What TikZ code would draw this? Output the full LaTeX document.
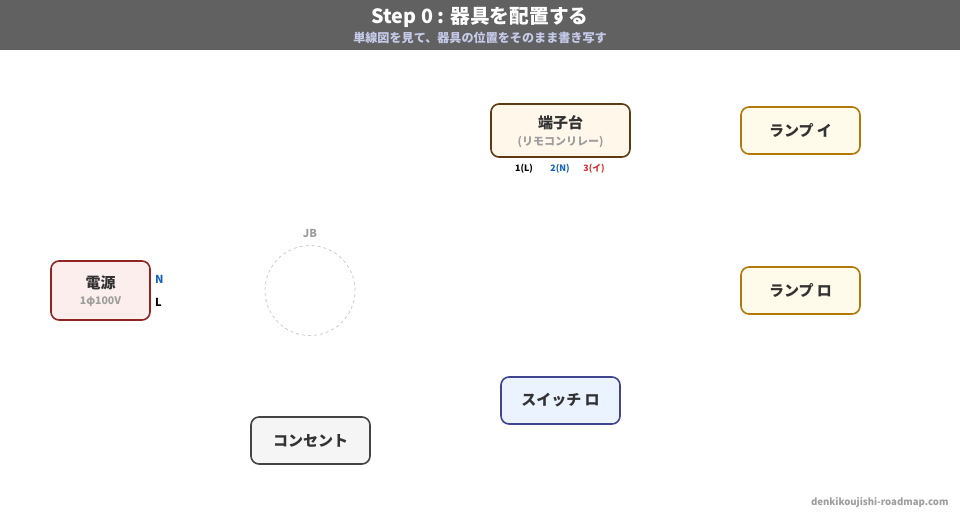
\documentclass[tikz,border=0pt]{standalone}
\usepackage{fontspec}
\setmainfont{Noto Sans CJK JP}
\definecolor{hdr}{HTML}{616161}
\definecolor{subc}{HTML}{C5CAE9}
\definecolor{txt}{HTML}{333333}
\definecolor{gry}{HTML}{9E9E9E}
\definecolor{nblue}{HTML}{1565C0}
\definecolor{tred}{HTML}{D32F2F}
\definecolor{srcf}{HTML}{FDEEEE}\definecolor{srcd}{HTML}{8E2424}
\definecolor{tbf}{HTML}{FFF7EA}\definecolor{tbd}{HTML}{5D3A12}
\definecolor{lmf}{HTML}{FFFBEA}\definecolor{lmd}{HTML}{B07808}
\definecolor{swf}{HTML}{EAF3FF}\definecolor{swd}{HTML}{3F458F}
\definecolor{ocf}{HTML}{F5F5F5}\definecolor{ocd}{HTML}{444444}
\definecolor{jbc}{HTML}{CCCCCC}
\tikzset{
  dev/.style={draw, line width=1.6pt, rounded corners=8pt, align=center, font=\bfseries\fontsize{15}{18}\selectfont, text=txt, inner sep=0pt},
  lbl/.style={font=\bfseries\fontsize{11}{13}\selectfont, inner sep=0pt},
}
\begin{document}
\begin{tikzpicture}[x=1pt,y=-1pt]
\useasboundingbox (0,0) rectangle (960,520);
\fill[hdr] (0,0) rectangle (960,50);
\node[text=white, font=\bfseries\fontsize{19.7}{22}\selectfont] (title) at (480,17) {Step 0 : 器具を配置する};
\node[text=subc, font=\bfseries\fontsize{12.1}{14}\selectfont] (sub) at (480,38) {単線図を見て、器具の位置をそのまま書き写す};

% power source
\node[dev, fill=srcf, draw=srcd, minimum width=99pt, minimum height=59pt] (src) at (100.5,290.5) {};
\node[font=\bfseries\fontsize{15}{18}\selectfont, text=txt] (srct) at (100.5,283) {電源};
\node[font=\bfseries\fontsize{10.5}{12}\selectfont, text=gry] (srcv) at (100.5,302) {1φ100V};
\node[lbl, text=nblue, anchor=west] (N) at (155,279) {N};
\node[lbl, text=black, anchor=west] (L) at (155,302) {L};

% terminal block
\node[dev, fill=tbf, draw=tbd, minimum width=139pt, minimum height=53pt] (tb) at (560.5,130.5) {};
\node[font=\bfseries\fontsize{15}{18}\selectfont, text=txt] (tbt) at (560.5,123) {端子台};
\node[font=\bfseries\fontsize{11}{13}\selectfont, text=gry] (tbs) at (560.5,142) {(リモコンリレー)};
\node[lbl, font=\bfseries\fontsize{8.8}{10}\selectfont, text=black] (t1) at (524,168.5) {1(L)};
\node[lbl, font=\bfseries\fontsize{8.8}{10}\selectfont, text=nblue] (t2) at (560,168.5) {2(N)};
\node[lbl, font=\bfseries\fontsize{8.8}{10}\selectfont, text=tred] (t3) at (594,168.5) {3(イ)};

% lamps
\node[dev, fill=lmf, draw=lmd, minimum width=119pt, minimum height=47pt] (li) at (800.5,130.5) {ランプ イ};
\node[dev, fill=lmf, draw=lmd, minimum width=119pt, minimum height=47pt] (lr) at (800.5,290.5) {ランプ ロ};

% switch
\node[dev, fill=swf, draw=swd, minimum width=119pt, minimum height=47pt] (sw) at (560.5,400.5) {スイッチ ロ};

% outlet
\node[dev, fill=ocf, draw=ocd, minimum width=119pt, minimum height=47pt] (oc) at (310.5,440.5) {コンセント};

% JB
\node[draw=jbc, dashed, circle, minimum size=90pt, line width=0.8pt, inner sep=0pt] (jb) at (310,290.5) {};
\node[lbl, text=gry] (jbl) at (310,233) {JB};

% footer
\node[font=\bfseries\fontsize{9.6}{11}\selectfont, text=gry, anchor=east] (ft) at (952,503) {denkikoujishi-roadmap.com};
\end{tikzpicture}
\end{document}
